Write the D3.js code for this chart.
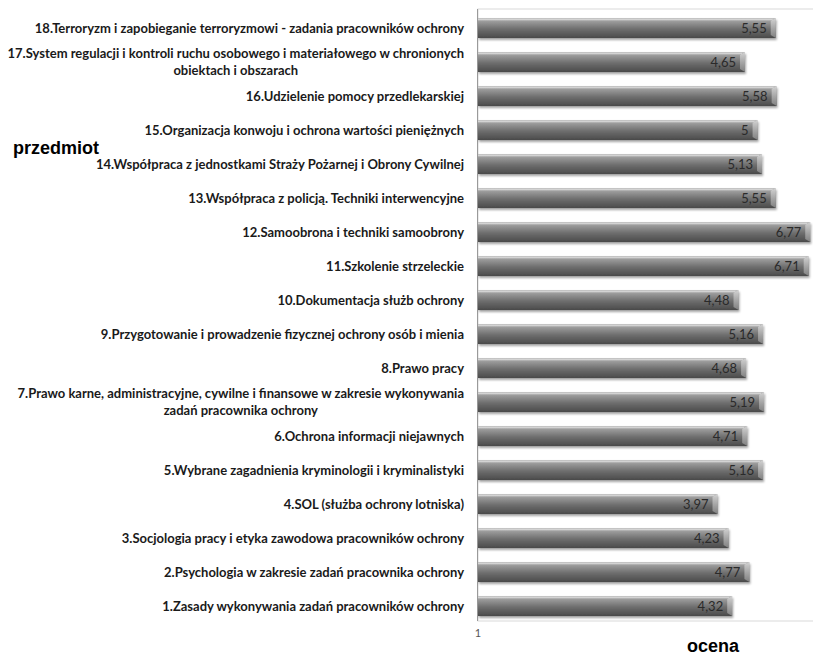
<!DOCTYPE html>
<html><head><meta charset="utf-8">
<script src="https://cdn.jsdelivr.net/npm/d3@7"></script>
<style>
html,body{margin:0;padding:0;background:#fff;}
svg{display:block;}
</style></head>
<body>
<svg id="chart" width="813" height="657"></svg>
<script>
const categories = [
  ["18.Terroryzm i zapobieganie terroryzmowi - zadania pracowników ochrony"],
  ["17.System regulacji i kontroli ruchu osobowego i materiałowego w chronionych", "obiektach i obszarach"],
  ["16.Udzielenie pomocy przedlekarskiej"],
  ["15.Organizacja konwoju i ochrona wartości pieniężnych"],
  ["14.Współpraca z jednostkami Straży Pożarnej i Obrony Cywilnej"],
  ["13.Współpraca z policją. Techniki interwencyjne"],
  ["12.Samoobrona i techniki samoobrony"],
  ["11.Szkolenie strzeleckie"],
  ["10.Dokumentacja służb ochrony"],
  ["9.Przygotowanie i prowadzenie fizycznej ochrony osób i mienia"],
  ["8.Prawo pracy"],
  ["7.Prawo karne, administracyjne, cywilne i finansowe w zakresie wykonywania", "zadań pracownika ochrony"],
  ["6.Ochrona informacji niejawnych"],
  ["5.Wybrane zagadnienia kryminologii i kryminalistyki"],
  ["4.SOL (służba ochrony lotniska)"],
  ["3.Socjologia pracy i etyka zawodowa pracowników ochrony"],
  ["2.Psychologia w zakresie zadań pracownika ochrony"],
  ["1.Zasady wykonywania zadań pracowników ochrony"]
];
const values = [5.55, 4.65, 5.58, 5, 5.13, 5.55, 6.77, 6.71, 4.48, 5.16, 4.68, 5.19, 4.71, 5.16, 3.97, 4.23, 4.77, 4.32];
const xTicks = [1];
const xTitle = "ocena";
const yTitle = "przedmiot";

(function(){
const svg = d3.select("#chart");
const plotLeft = 478, plotTop = 11, plotBottom = 623;

const x = d3.scaleLog().domain([1, 10]).range([plotLeft, plotLeft + 400]);
const y = d3.scaleBand().domain(d3.range(categories.length)).range([plotTop, plotBottom]).paddingInner(0.41).paddingOuter(0.205);

const defs = svg.append("defs");
const g = defs.append("linearGradient").attr("id","barGrad").attr("x1",0).attr("y1",0).attr("x2",0).attr("y2",1);
g.append("stop").attr("offset","0%").attr("stop-color","#c4c4c4");
g.append("stop").attr("offset","18%").attr("stop-color","#9a9a9a");
g.append("stop").attr("offset","55%").attr("stop-color","#6e6e6e");
g.append("stop").attr("offset","100%").attr("stop-color","#4a4a4a");
const gc = defs.append("linearGradient").attr("id","capGrad").attr("x1",0).attr("y1",0).attr("x2",0).attr("y2",1);
gc.append("stop").attr("offset","0%").attr("stop-color","#d8d8d8");
gc.append("stop").attr("offset","100%").attr("stop-color","#8a8a8a");
const f = defs.append("filter").attr("id","shadow").attr("x","-5%").attr("y","-30%").attr("width","110%").attr("height","180%");
f.append("feDropShadow").attr("dx",1).attr("dy",2).attr("stdDeviation",1.2).attr("flood-color","#000").attr("flood-opacity",0.35);

svg.append("rect").attr("x", plotLeft).attr("y", 9).attr("width", 400).attr("height", 612)
  .attr("fill","none").attr("stroke","#d9d9d9").attr("stroke-width",1);
svg.append("line").attr("x1", plotLeft - 0.5).attr("x2", plotLeft - 0.5).attr("y1", 9).attr("y2", 621)
  .attr("stroke","#9a9a9a").attr("stroke-width",1);

const bars = svg.append("g").selectAll("g").data(values).join("g");
bars.append("rect")
  .attr("x", plotLeft)
  .attr("y", (d,i) => y(i))
  .attr("width", d => x(d) - plotLeft)
  .attr("height", y.bandwidth())
  .attr("fill","url(#barGrad)")
  .attr("filter","url(#shadow)");
bars.append("path")
  .attr("d", (d,i) => {
    const xe = x(d), y0 = y(i), h = y.bandwidth();
    return `M${xe-5},${y0+3} L${xe},${y0} L${xe},${y0+h} L${xe-5},${y0+h-3} Z`;
  })
  .attr("fill","url(#capGrad)").attr("opacity",0.85);
bars.append("line")
  .attr("x1", plotLeft).attr("x2", d => x(d) - 3)
  .attr("y1", (d,i) => y(i) + 1.5).attr("y2", (d,i) => y(i) + 1.5)
  .attr("stroke","#dcdcdc").attr("stroke-width",1.5).attr("opacity",0.8);

bars.append("text")
  .attr("x", d => x(d) - 9)
  .attr("y", (d,i) => y(i) + y.bandwidth()/2)
  .attr("dy","0.35em")
  .attr("text-anchor","end")
  .attr("font-family","Lato, 'Open Sans', sans-serif")
  .attr("font-size", 13)
  .attr("fill","#2a2a2a")
  .text(d => String(d).replace(".", ","));

const labX = 464;
const lab = svg.append("g").selectAll("text").data(categories).join("text")
  .attr("font-family","Lato, 'Open Sans', sans-serif")
  .attr("font-weight","bold")
  .attr("font-size", 13)
  .attr("fill","#1a1a1a");
lab.each(function(lines, i){
  const t = d3.select(this);
  const cy = y(i) + y.bandwidth()/2;
  if (lines.length === 1) {
    t.attr("text-anchor","end").attr("x", labX).attr("y", cy).attr("dy","0.35em").text(lines[0]);
  } else {
    t.attr("y", cy);
    const first = t.append("tspan").attr("text-anchor","end").attr("x", labX).attr("dy","-0.3em").text(lines[0]);
    const w = first.node().getComputedTextLength();
    t.append("tspan").attr("text-anchor","middle").attr("x", labX - w/2).attr("dy","1.3em").text(lines[1]);
  }
});

svg.append("g").selectAll("text").data(xTicks).join("text")
  .attr("x", d => x(d)).attr("y", 637)
  .attr("text-anchor","middle")
  .attr("font-family","Lato, sans-serif").attr("font-size", 11).attr("fill","#555")
  .text(d => d);

svg.append("text").attr("x", 713).attr("y", 652).attr("text-anchor","middle")
  .attr("font-family","'Liberation Sans', Arial, sans-serif").attr("font-weight","bold").attr("font-size", 18)
  .attr("fill","#000").text(xTitle);
svg.append("text").attr("x", 13).attr("y", 154)
  .attr("font-family","'Liberation Sans', Arial, sans-serif").attr("font-weight","bold").attr("font-size", 18)
  .attr("fill","#000").text(yTitle);
})();
</script>
</body></html>
